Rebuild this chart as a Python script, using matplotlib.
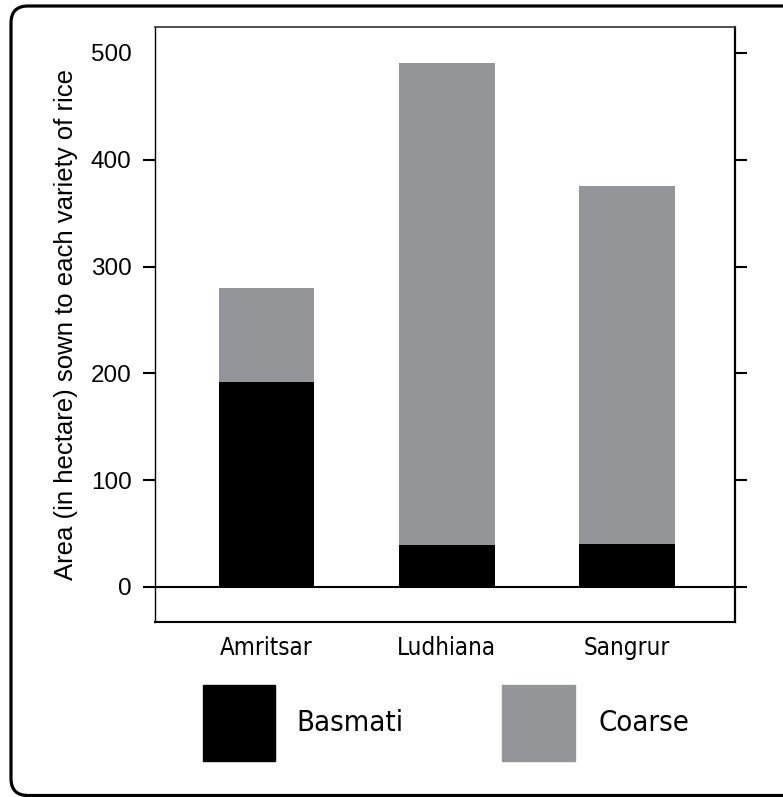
import matplotlib
matplotlib.use("Agg")
import matplotlib.pyplot as plt
from matplotlib import font_manager as fm
from matplotlib.patches import FancyBboxPatch, Rectangle
from matplotlib.transforms import IdentityTransform

districts = ["Amritsar", "Ludhiana", "Sangrur"]
basmati = [192, 39, 40]
coarse = [88, 452, 335]
series_names = ["Basmati", "Coarse"]
yticks = [0, 100, 200, 300, 400, 500]

BLACK = "#000000"
GRAY = "#949599"

names = {f.name for f in fm.fontManager.ttflist}
if "Liberation Sans Narrow" in names:
    narrow = dict(family="Liberation Sans Narrow")
else:
    narrow = dict(family="DejaVu Sans", stretch="condensed")

W, H = 783, 797
fig = plt.figure(figsize=(W / 100, H / 100), dpi=100)
ax = fig.add_axes([155 / W, 1 - 622 / H, (735 - 155) / W, (622 - 27) / H])

x = list(range(len(districts)))
ax.bar(x, basmati, width=0.53, color=BLACK, zorder=2)
ax.bar(x, coarse, width=0.53, bottom=basmati, color=GRAY, zorder=2)
ax.axhline(0, color=BLACK, lw=1.5, zorder=3)

ax.set_xlim(-0.62, 2.6)
ax.set_ylim(-32.8, 524.3)
ax.set_yticks(yticks)
ax.set_yticklabels([str(v) for v in yticks], family="Liberation Sans", fontsize=17.5)
ax.tick_params(axis="y", which="both", direction="out", length=8.5, width=1.5,
               left=True, right=True, pad=8.5, colors=BLACK)
ax.yaxis.get_major_ticks()[-1].tick1line.set_visible(False)
ax.set_xticks(x)
ax.set_xticklabels(districts, fontsize=17.3, **narrow)
ax.tick_params(axis="x", length=0, pad=10)

ax.spines["left"].set_linewidth(1.0)
ax.spines["top"].set_color("#404040")
ax.spines["top"].set_linewidth(1.3)
ax.spines["right"].set_linewidth(1.6)
ax.spines["bottom"].set_linewidth(1.5)

ax.set_ylabel("Area (in hectare) sown to each variety of rice",
              family="Liberation Sans", fontsize=18.5, labelpad=9)

# legend drawn in figure pixels
legend_boxes = [(203, 275, BLACK), (502, 575, GRAY)]
legend_text_x = [296, 598]
for (x0, x1, c), tx, name in zip(legend_boxes, legend_text_x, series_names):
    fig.patches.append(Rectangle((x0 / W, 1 - 761 / H), (x1 - x0) / W, 76 / H,
                                 transform=fig.transFigure, color=c))
    fig.text(tx / W, 1 - 723 / H, name, fontsize=21, va="center", ha="left", **narrow)

# rounded border
border = FancyBboxPatch((11, 1.5), 820, H - 6 - 1.5, boxstyle="round,pad=0,rounding_size=17",
                        transform=IdentityTransform(), fill=False, ec=BLACK, lw=2.3,
                        clip_on=False)
fig.patches.append(border)

fig.savefig("out.png", dpi=100)
